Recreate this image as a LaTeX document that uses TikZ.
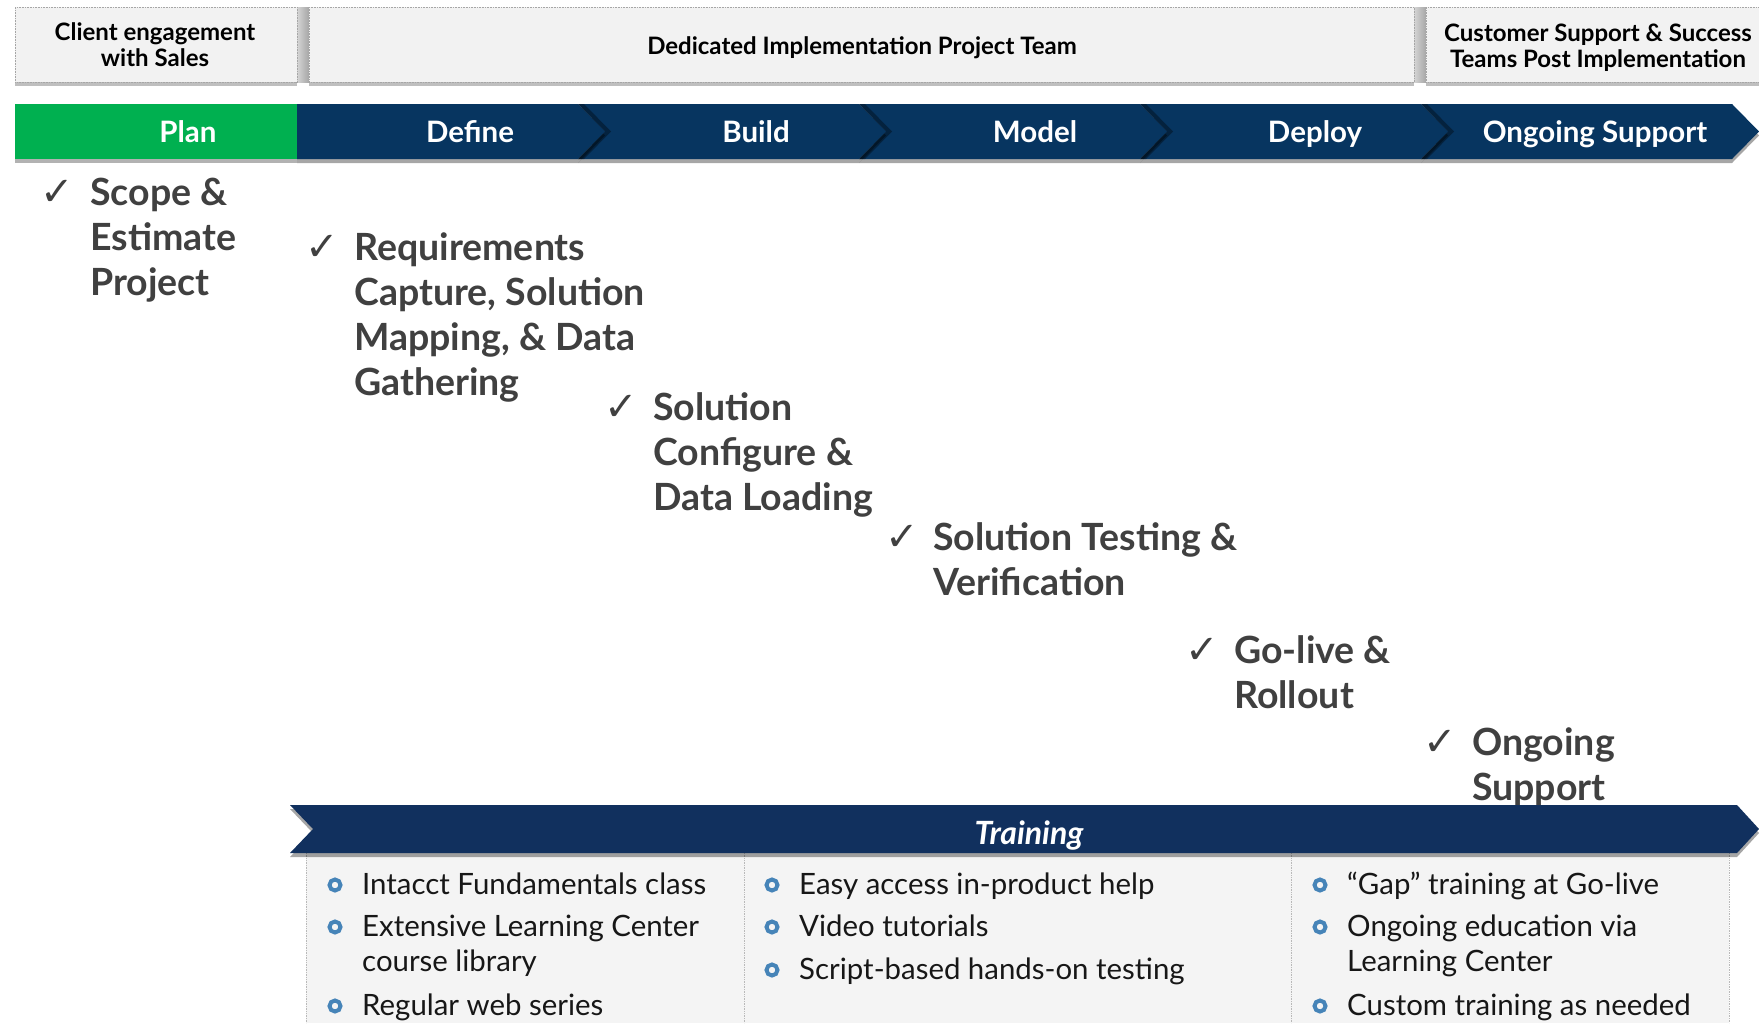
\documentclass[tikz,border=0pt]{standalone}
\usepackage{fontspec}
\setmainfont{Lato}
\newfontfamily\chkfam{DejaVu Sans}
\usetikzlibrary{shadows}

\definecolor{navy}{RGB}{7,53,96}
\definecolor{navyT}{RGB}{17,48,94}
\definecolor{plangreen}{RGB}{0,176,80}
\definecolor{hdrfill}{RGB}{242,242,242}
\definecolor{boxfill}{RGB}{244,244,244}
\definecolor{txtgray}{RGB}{64,64,64}
\definecolor{bulblue}{RGB}{70,132,184}
\definecolor{txtblack}{RGB}{23,23,23}

\begin{document}
\begin{tikzpicture}[x=1pt,y=-1pt,
  hdrbox/.style={fill=hdrfill, draw=gray!70, densely dotted, line width=0.6pt, anchor=north west,
     minimum height=75pt, inner sep=0},
  hdrtext/.style={font=\bfseries\fontsize{24}{26}\selectfont, align=center, inner sep=0},
  hdrshadow/.style={drop shadow={shadow xshift=0pt, shadow yshift=-4pt, opacity=0.25, fill=black}},
  phase/.style={fill=navy, drop shadow={shadow xshift=0pt, shadow yshift=-4pt, opacity=0.35, fill=black}},
  tipshade/.style={fill=black, opacity=0.35},
  phasetext/.style={font=\bfseries\fontsize{29.5}{36}\selectfont, text=white, anchor=base, inner sep=0},
  big/.style={font=\bfseries\fontsize{37.5}{45}\selectfont, text=txtgray, anchor=base west, inner sep=0},
  chk/.style={font=\chkfam\fontsize{40}{40}\selectfont, text=txtgray, anchor=base, inner sep=0},
  btxt/.style={font=\fontsize{29.4}{35}\selectfont, text=txtblack, anchor=base west, inner sep=0},
  bdot/.style={circle, draw=bulblue, line width=4pt, minimum size=11pt, inner sep=0},
  divider/.style={draw=gray!55, densely dotted, line width=0.7pt},
]
\useasboundingbox (0,0) rectangle (1759,1023);
\fill[white] (0,0) rectangle (1759,1023);

% ---------- header boxes ----------
\shade[left color=gray!30, right color=gray!70] (296,7) rectangle (309,82);
\shade[left color=gray!30, right color=gray!70] (1413,7) rectangle (1426,82);
\node[hdrbox, hdrshadow, minimum width=282pt] (h1) at (15,7) {};
\node[hdrbox, hdrshadow, minimum width=1105pt] (h2) at (309,7) {};
\node[hdrbox, hdrshadow, minimum width=342pt] (h3) at (1426,7) {};
\node[hdrtext] (t1) at (155,45) {Client engagement\\with Sales};
\node[hdrtext] (t2) at (862,47.5) {Dedicated Implementation Project Team};
\node[hdrtext] (t3) at (1598,48) {Customer Support \& Success\\Teams Post Implementation};

% ---------- phase bar ----------
\fill[phase] (1421,104) -- (1732,104) -- (1759,131.5) -- (1732,159) -- (1421,159) -- (1448,131.5) -- cycle;
\fill[phase] (1140,104) -- (1421,104) -- (1448,131.5) -- (1421,159) -- (1140,159) -- (1167,131.5) -- cycle;
\fill[phase] (859,104) -- (1140,104) -- (1167,131.5) -- (1140,159) -- (859,159) -- (886,131.5) -- cycle;
\fill[phase] (578,104) -- (859,104) -- (886,131.5) -- (859,159) -- (578,159) -- (605,131.5) -- cycle;
\fill[phase] (297,104) -- (578,104) -- (605,131.5) -- (578,159) -- (297,159) -- cycle;
% shadows cast by each chevron tip on the next one
\fill[tipshade] (578,104) -- (605,131.5) -- (578,159) -- (584,159) -- (611,131.5) -- (584,104) -- cycle;
\fill[tipshade] (859,104) -- (886,131.5) -- (859,159) -- (865,159) -- (892,131.5) -- (865,104) -- cycle;
\fill[tipshade] (1140,104) -- (1167,131.5) -- (1140,159) -- (1146,159) -- (1173,131.5) -- (1146,104) -- cycle;
\fill[tipshade] (1421,104) -- (1448,131.5) -- (1421,159) -- (1427,159) -- (1454,131.5) -- (1427,104) -- cycle;
\fill[plangreen, drop shadow={shadow xshift=0pt, shadow yshift=-4pt, opacity=0.3, fill=black}] (15,104) rectangle (297,159);

\node[phasetext] (pPlan) at (188,142) {Plan};
\node[phasetext] (pDefine) at (470,142) {Define};
\node[phasetext] (pBuild) at (756,142) {Build};
\node[phasetext] (pModel) at (1035,142) {Model};
\node[phasetext] (pDeploy) at (1315,142) {Deploy};
\node[phasetext] (pOngoing) at (1595,142) {Ongoing Support};

% ---------- staircase items ----------
\node[chk] (c1) at (57,205) {✓};
\node[big] (s1a) at (90,205) {Scope \&};
\node[big] (s1b) at (90,250) {Estimate};
\node[big] (s1c) at (90,295) {Project};

\node[chk] (c2) at (322,260) {✓};
\node[big] (s2a) at (354,260) {Requirements};
\node[big] (s2b) at (354,305) {Capture, Solution};
\node[big] (s2c) at (354,350) {Mapping, \& Data};
\node[big] (s2d) at (354,395) {Gathering};

\node[chk] (c3) at (621,420) {✓};
\node[big] (s3a) at (653,420) {Solution};
\node[big] (s3b) at (653,465) {Configure \&};
\node[big] (s3c) at (653,510) {Data Loading};

\node[chk] (c4) at (902,550) {✓};
\node[big] (s4a) at (933,550) {Solution Testing \&};
\node[big] (s4b) at (933,595) {Verification};

\node[chk] (c5) at (1202,663) {✓};
\node[big] (s5a) at (1234,663) {Go-live \&};
\node[big] (s5b) at (1234,708) {Rollout};

\node[chk] (c6) at (1440,755) {✓};
\node[big] (s6a) at (1472,755) {Ongoing};
\node[big] (s6b) at (1472,800) {Support};

% ---------- training box ----------
\fill[boxfill] (306,853) rectangle (1729,1023);
\draw[divider] (306,853) -- (306,1023);
\draw[divider] (744,853) -- (744,1023);
\draw[divider] (1291,853) -- (1291,1023);
\draw[divider] (1729,853) -- (1729,1023);

\fill[navyT, drop shadow={shadow xshift=0pt, shadow yshift=-4pt, opacity=0.35, fill=black}]
  (290,805) -- (1737,805) -- (1759,829) -- (1737,853) -- (290,853) -- (313,829) -- cycle;
\node[font=\bfseries\itshape\fontsize{32}{36}\selectfont, text=white, anchor=base, inner sep=0] (train) at (1029,844) {Training};

% column 1
\node[bdot] (d1a) at (335,885) {};
\node[btxt] (b1a) at (362,894) {Intacct Fundamentals class};
\node[bdot] (d1b) at (335,927) {};
\node[btxt] (b1b) at (362,936) {Extensive Learning Center};
\node[btxt] (b1c) at (362,971) {course library};
\node[bdot] (d1d) at (335,1006) {};
\node[btxt] (b1d) at (362,1015) {Regular web series};

% column 2
\node[bdot] (d2a) at (772,885) {};
\node[btxt] (b2a) at (799,894) {Easy access in-product help};
\node[bdot] (d2b) at (772,927) {};
\node[btxt] (b2b) at (799,936) {Video tutorials};
\node[bdot] (d2c) at (772,970) {};
\node[btxt] (b2c) at (799,979) {Script-based hands-on testing};

% column 3
\node[bdot] (d3a) at (1320,885) {};
\node[btxt] (b3a) at (1347,894) {“Gap” training at Go-live};
\node[bdot] (d3b) at (1320,927) {};
\node[btxt] (b3b) at (1347,936) {Ongoing education via};
\node[btxt] (b3c) at (1347,971) {Learning Center};
\node[bdot] (d3d) at (1320,1006) {};
\node[btxt] (b3d) at (1347,1015) {Custom training as needed};
\end{tikzpicture}
\end{document}
